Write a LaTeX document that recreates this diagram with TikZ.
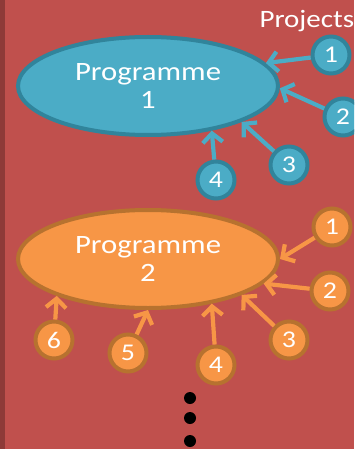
\documentclass[tikz,border=0pt]{standalone}
\usepackage{fontspec}
\setmainfont{Carlito}[FakeStretch=1.16]
\usetikzlibrary{arrows.meta,shapes.geometric}
\definecolor{slide}{HTML}{C0504D}
\definecolor{slideedge}{HTML}{8E3A38}
\definecolor{blueFill}{HTML}{4BACC6}
\definecolor{blueLine}{HTML}{31849B}
\definecolor{orangeFill}{HTML}{F79646}
\definecolor{orangeLine}{HTML}{B7722F}
\begin{document}
\begin{tikzpicture}[x=1pt,y=-1pt,
  prog/.style={ellipse, draw, line width=4pt, minimum width=260pt, minimum height=98pt,
    inner sep=0pt, text=white, align=center, font=\fontsize{26.5}{28}\selectfont},
  num/.style={circle, draw, line width=4pt, minimum size=37pt, inner sep=0pt,
    text=white, font=\fontsize{24}{24}\selectfont},
  link/.style={line width=4.2pt, -{Straight Barb[length=9pt,width=20pt]}},
  blueset/.style={fill=blueFill, draw=blueLine},
  orangeset/.style={fill=orangeFill, draw=orangeLine},
  dot/.style={circle, fill=black, minimum size=12pt, inner sep=0pt}]
\useasboundingbox (0,0) rectangle (354,449);
\clip (0,0) rectangle (354,449);
% slide background with its darker left edge
\fill[slide] (0,0) rectangle (354,449);
\fill[slideedge] (0,0) rectangle (5,449);

\node[anchor=base west, text=white, font=\fontsize{25}{25}\selectfont] (title) at (256,28) {Projects};

% programme 1 and its projects
\node[prog, blueset] (p1) at (148,86) {Programme\\1};
\node[num, blueset] (a1) at (331,55) {1};
\node[num, blueset] (a2) at (343,117) {2};
\node[num, blueset] (a3) at (289,165) {3};
\node[num, blueset] (a4) at (216,180) {4};
\draw[link, blueFill] (a1) -- (p1.11);
\draw[link, blueFill] (a2) -- (p1.-1);
\draw[link, blueFill] (a3) -- (p1.-21);
\draw[link, blueFill] (a4) -- (p1.-35);

% programme 2 and its projects
\node[prog, orangeset] (p2) at (148,259) {Programme\\2};
\node[num, orangeset] (b1) at (332,227) {1};
\node[num, orangeset] (b2) at (330,291) {2};
\node[num, orangeset] (b3) at (289,340) {3};
\node[num, orangeset] (b4) at (216,365) {4};
\node[num, orangeset] (b5) at (128,353) {5};
\node[num, orangeset] (b6) at (54,340) {6};
\draw[link, orangeFill] (b1) -- (p2.0);
\draw[link, orangeFill] (b2) -- (p2.-12);
\draw[link, orangeFill] (b3) -- (p2.-21);
\draw[link, orangeFill] (b4) -- (p2.-35);
\draw[link, orangeFill] (b5) -- (p2.-90);
\draw[link, orangeFill] (b6) -- (p2.-158);

% continuation dots
\node[dot] (d1) at (190,398) {};
\node[dot] (d2) at (190,418) {};
\node[dot] (d3) at (190,441) {};
\end{tikzpicture}
\end{document}
